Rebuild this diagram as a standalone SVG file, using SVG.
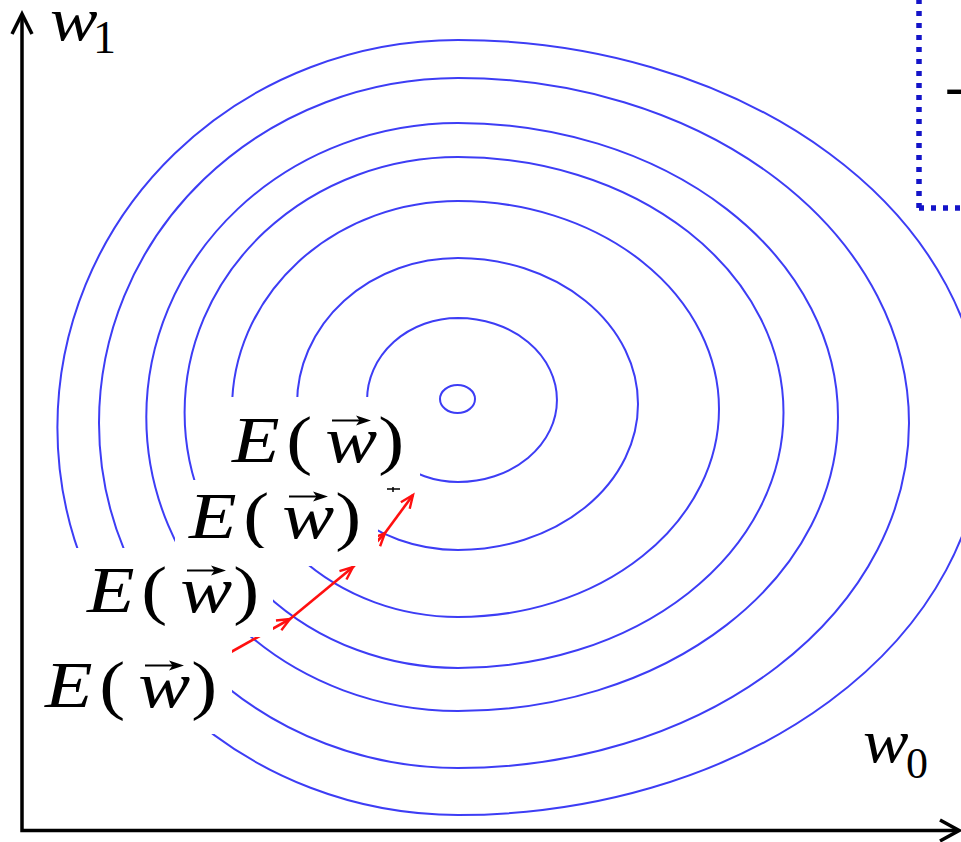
<svg xmlns="http://www.w3.org/2000/svg" width="961" height="842" viewBox="0 0 961 842">
<defs>
<style>
.ring{fill:none;stroke:#3d3df5;stroke-width:2}
.red{fill:none;stroke:#ff1010;stroke-width:2.6}
.ax{fill:none;stroke:#000;stroke-width:3.5}
.box{fill:#fff;stroke:none}
.vs{fill:none;stroke:#000;stroke-width:2}
</style>
<marker id="rh" markerWidth="18" markerHeight="14" refX="15" refY="7" orient="auto" markerUnits="userSpaceOnUse">
<path d="M2,1.5 L15,7 L2,12.5" fill="none" stroke="#ff1010" stroke-width="2.4"/>
</marker>
<g id="vec">
<path class="vs" d="M100,-41.5 L130,-41.5"/>
<path d="M139,-41.5 L124,-46.5 L127.5,-41.5 L124,-36.5 Z" fill="#000"/>
</g>
</defs>
<rect width="961" height="842" fill="#fff"/>
<g id="contours">
<ellipse class="ring" cx="457.5" cy="399" rx="17.5" ry="14"/>
<path class="ring" d="M458,318 A99,82 0 0 1 458,482 A91,82 0 0 1 458,318 Z"/>
<path class="ring" d="M458,258 A180,146 0 0 1 458,550 A161,146 0 0 1 458,258 Z"/>
<path class="ring" d="M458,201 A261,208 0 0 1 458,617 A226,208 0 0 1 458,201 Z"/>
<path class="ring" d="M458,157 A325.5,255.5 0 0 1 458,668 A273.4,255.5 0 0 1 458,157 Z"/>
<path class="ring" d="M458,123 A380,294 0 0 1 458,711 A311.7,294 0 0 1 458,123 Z"/>
<path class="ring" d="M458,78 A451,345 0 0 1 458,768 A359,345 0 0 1 458,78 Z"/>
<path class="ring" d="M458,40 A525,387.5 0 0 1 458,815 A400.6,387.5 0 0 1 458,40 Z"/>
</g>
<g id="connectors">
<path class="red" d="M215,661 L290,619" marker-end="url(#rh)"/>
<path class="red" d="M290,619 L353,567" marker-end="url(#rh)"/>
<path class="red" d="M353,567 L385,533" marker-end="url(#rh)"/>
<path class="red" d="M385,533 L413,495" marker-end="url(#rh)"/>
<path d="M387,489 L400,489 M393,487 L393,492" stroke="#000" stroke-width="1.5" fill="none"/>
</g>
<g fill="#000" font-family="Liberation Serif, Times New Roman, serif">
<g id="label-1">
<rect class="box" x="200" y="397" width="220" height="83"/>
<use href="#vec" transform="translate(232,462)"/>
<g transform="translate(232,462) scale(1.18,1)">
<text font-size="66"><tspan font-style="italic">E</tspan><tspan x="46">(</tspan><tspan x="79" font-style="italic">w</tspan><tspan x="124">)</tspan></text>
</g>
</g>
<g id="label-2">
<rect class="box" x="175" y="480" width="203" height="86"/>
<use href="#vec" transform="translate(189,538)"/>
<g transform="translate(189,538) scale(1.18,1)">
<text font-size="66"><tspan font-style="italic">E</tspan><tspan x="46">(</tspan><tspan x="79" font-style="italic">w</tspan><tspan x="124">)</tspan></text>
</g>
</g>
<g id="label-3">
<rect class="box" x="60" y="548" width="213" height="89"/>
<use href="#vec" transform="translate(87,612)"/>
<g transform="translate(87,612) scale(1.18,1)">
<text font-size="66"><tspan font-style="italic">E</tspan><tspan x="46">(</tspan><tspan x="79" font-style="italic">w</tspan><tspan x="124">)</tspan></text>
</g>
</g>
<g id="label-4">
<rect class="box" x="35" y="637" width="197" height="97"/>
<use href="#vec" transform="translate(45,707)"/>
<g transform="translate(45,707) scale(1.18,1)">
<text font-size="66"><tspan font-style="italic">E</tspan><tspan x="46">(</tspan><tspan x="79" font-style="italic">w</tspan><tspan x="124">)</tspan></text>
</g>
</g>
<g id="note-box">
<rect x="919" y="-20" width="80" height="228" fill="#fff" stroke="none"/>
<path d="M919,208 L919,-10 M919,208 L975,208" fill="none" stroke="#1414c8" stroke-width="5.5" stroke-dasharray="5 7"/>
<text x="945" y="106" font-size="60">-</text>
</g>
<g id="axes">
<path class="ax" d="M22,15 L22,830.5 L957,830.5"/>
<path class="ax" d="M12,34 L22,14 L32,34"/>
<path class="ax" d="M940,820 L959,830.5 L940,841"/>
<g transform="translate(50,40) scale(1.15,1)"><text font-size="62" font-style="italic">w</text></g>
<text x="93" y="53" font-size="46">1</text>
<g transform="translate(863,762) scale(1.1,1)"><text font-size="62" font-style="italic">w</text></g>
<text x="906" y="778" font-size="44">0</text>
</g>
</g>
</svg>
